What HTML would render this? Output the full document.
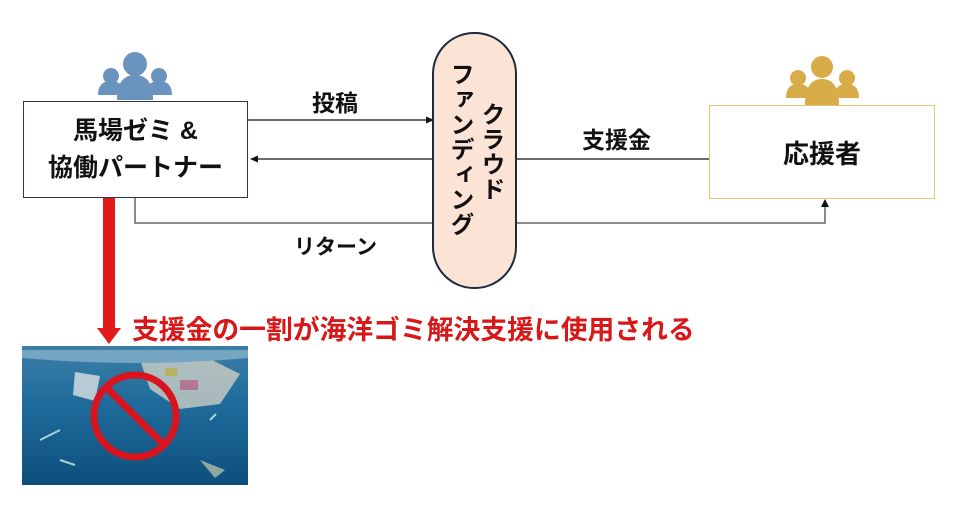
<!DOCTYPE html>
<html><head><meta charset="utf-8"><style>
html,body{margin:0;padding:0;background:#fff;width:957px;height:509px;overflow:hidden;position:relative;font-family:"Liberation Sans","Noto Sans CJK JP",sans-serif;}
.abs{position:absolute}
.box{position:absolute;box-sizing:border-box;display:flex;align-items:center;justify-content:center;text-align:center;font-weight:bold;color:#111}
.lbl{position:absolute;font-size:21px;font-weight:bold;color:#111;white-space:nowrap}
.vt{position:absolute;writing-mode:vertical-rl;font-size:24px;font-weight:bold;color:#111;letter-spacing:1px}
</style></head><body>
<svg class="abs" style="left:0;top:0" width="957" height="509">
<defs>
<linearGradient id="sea" x1="0" y1="0" x2="0" y2="1"><stop offset="0" stop-color="#3d7fa8"/><stop offset="0.4" stop-color="#1f6c9c"/><stop offset="1" stop-color="#0d4f7c"/></linearGradient>
</defs>
<g fill="#6a93bd">
<circle cx="135" cy="64" r="12"/><path d="M117 100 q0-25 18-25 q18 0 18 25z"/>
<circle cx="111" cy="76" r="8"/><path d="M98 95 q0-14 13-14 q10 0 12 8 l-4 6z"/>
<circle cx="159" cy="76" r="8"/><path d="M172 95 q0-14 -13-14 q-10 0 -12 8 l4 6z"/>
</g>
<g fill="#d9ac4a">
<circle cx="822" cy="67" r="11"/><path d="M805 105 q0-26 17-26 q17 0 17 26z"/>
<circle cx="798" cy="78" r="8"/><path d="M786 98 q0-14 12-14 q10 0 12 8 l-4 6z"/>
<circle cx="847" cy="78" r="8"/><path d="M859 98 q0-14 -12-14 q-10 0 -12 8 l4 6z"/>
</g>
<line x1="248" y1="120" x2="428" y2="120" stroke="#111" stroke-width="1.2"/>
<polygon points="434,120 426,116.5 426,123.5" fill="#111"/>
<line x1="709" y1="159" x2="256" y2="159" stroke="#111" stroke-width="1.2"/>
<polygon points="250,159 258,155.5 258,162.5" fill="#111"/>
<polyline points="135,198 135,223 825,223 825,206" fill="none" stroke="#666" stroke-width="1.5"/>
<polygon points="825,199 821,207 829,207" fill="#111"/>
<rect x="433" y="33" width="83" height="255" rx="41" fill="#fbe3d6" stroke="#1e2b3c" stroke-width="2"/>
<rect x="103" y="198" width="12" height="132" fill="#e31a1a"/>
<polygon points="97,328 121,328 109,344" fill="#e31a1a"/>
<rect x="22" y="346" width="226" height="139" fill="url(#sea)"/>
<g opacity="0.75">
<path d="M140 360 l60 -6 l40 20 l-20 30 l-40 5 l-30 -20z" fill="#d8d4c6"/>
<path d="M75 372 l25 4 l-5 25 l-22 -6z" fill="#e8e8e8"/>
<rect x="180" y="380" width="18" height="10" fill="#e07a90"/>
<rect x="165" y="368" width="12" height="8" fill="#e2c84a"/>
<path d="M22 350 h226 v8 q-110 10 -226 0z" fill="#8ab4cc"/>
<path d="M40 440 l20 -10 M60 460 l15 5 M210 420 l6 -6" stroke="#cfe" stroke-width="2"/>
<path d="M200 460 l25 10 l-10 8z" fill="#b8c6a8"/>
</g>
<circle cx="135" cy="416" r="41" fill="none" stroke="#d8141e" stroke-width="7"/>
<line x1="106" y1="387" x2="164" y2="445" stroke="#d8141e" stroke-width="7"/>
</svg>
<div class="box" style="left:23px;top:101px;width:225px;height:97px;border:1px solid #2b3648;font-size:25px;line-height:37px">馬場ゼミ &amp;<br>協働パートナー</div>
<div class="box" style="left:709px;top:105px;width:226px;height:94px;border:1px solid #e6c76a;font-size:26px">応援者</div>
<div class="lbl" style="left:312px;top:84px;font-size:23px">投稿</div>
<div class="lbl" style="left:582px;top:121px;font-size:23px">支援金</div>
<div class="lbl" style="left:294px;top:231px">リターン</div>
<div class="vt" style="left:475px;top:102px;line-height:30px">クラウド</div>
<div class="vt" style="left:444px;top:62px;line-height:30px">ファンディング</div>
<div class="lbl" style="left:132px;top:308px;font-size:26.8px;color:#d81818">支援金の一割が海洋ゴミ解決支援に使用される</div>
</body></html>
